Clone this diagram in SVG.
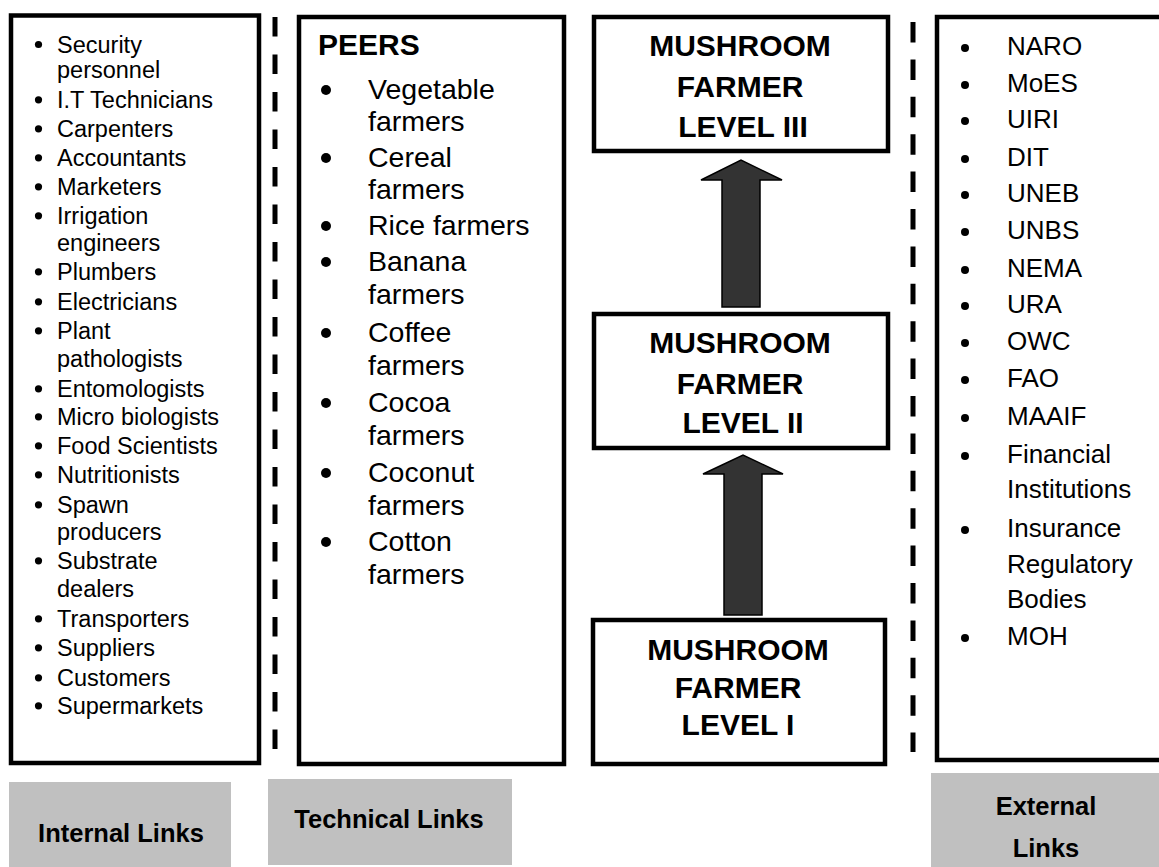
<svg xmlns="http://www.w3.org/2000/svg" width="1159" height="867" viewBox="0 0 1159 867">
<style>
.box{fill:#ffffff;stroke:#000000;stroke-width:4.5}
.lab{fill:#c0c0c0;stroke:none}
.dash{stroke:#000000;stroke-width:5;fill:none}
.t{font-family:"Liberation Sans",Arial,sans-serif;fill:#000000}
.li{font-size:23.5px}
.tl{font-size:28.5px}
.el{font-size:26px}
.b{font-weight:bold}
.mf{font-size:30px;font-weight:bold;text-anchor:middle}
.lt{font-size:25.5px;font-weight:bold;text-anchor:middle}
.arr{fill:#333333;stroke:#000000;stroke-width:1.5;stroke-linejoin:miter}
</style>
<rect width="1159" height="867" fill="#ffffff"/>

<g id="separators">
<line class="dash" x1="275" y1="17" x2="275" y2="766" stroke-dasharray="19.5 18"/>
<line class="dash" x1="913" y1="22" x2="913" y2="752" stroke-dasharray="20.5 16.9"/>
</g>

<g id="internal-links">
<rect class="box" x="11" y="15.5" width="248" height="747.5"/>
<g class="t li">
<text x="57" y="52.7">Security</text>
<text x="57" y="77.7">personnel</text>
<text x="57" y="108">I.T Technicians</text>
<text x="57" y="137">Carpenters</text>
<text x="57" y="166">Accountants</text>
<text x="57" y="195">Marketers</text>
<text x="57" y="224">Irrigation</text>
<text x="57" y="251">engineers</text>
<text x="57" y="280">Plumbers</text>
<text x="57" y="310">Electricians</text>
<text x="57" y="339">Plant</text>
<text x="57" y="367">pathologists</text>
<text x="57" y="397">Entomologists</text>
<text x="57" y="425">Micro biologists</text>
<text x="57" y="454">Food Scientists</text>
<text x="57" y="483">Nutritionists</text>
<text x="57" y="513">Spawn</text>
<text x="57" y="540">producers</text>
<text x="57" y="569">Substrate</text>
<text x="57" y="597">dealers</text>
<text x="57" y="627">Transporters</text>
<text x="57" y="656">Suppliers</text>
<text x="57" y="686">Customers</text>
<text x="57" y="714">Supermarkets</text>
</g>
<g fill="#000000">
<circle cx="38.5" cy="44.5" r="3.6"/>
<circle cx="38.5" cy="99.8" r="3.6"/>
<circle cx="38.5" cy="128.8" r="3.6"/>
<circle cx="38.5" cy="157.8" r="3.6"/>
<circle cx="38.5" cy="186.8" r="3.6"/>
<circle cx="38.5" cy="215.8" r="3.6"/>
<circle cx="38.5" cy="271.8" r="3.6"/>
<circle cx="38.5" cy="301.8" r="3.6"/>
<circle cx="38.5" cy="330.8" r="3.6"/>
<circle cx="38.5" cy="388.8" r="3.6"/>
<circle cx="38.5" cy="416.8" r="3.6"/>
<circle cx="38.5" cy="445.8" r="3.6"/>
<circle cx="38.5" cy="474.8" r="3.6"/>
<circle cx="38.5" cy="504.8" r="3.6"/>
<circle cx="38.5" cy="560.8" r="3.6"/>
<circle cx="38.5" cy="618.8" r="3.6"/>
<circle cx="38.5" cy="647.8" r="3.6"/>
<circle cx="38.5" cy="677.8" r="3.6"/>
<circle cx="38.5" cy="705.8" r="3.6"/>
</g>
</g>

<g id="technical-links">
<rect class="box" x="299" y="17" width="265" height="747"/>
<text class="t b" x="318" y="55" font-size="30">PEERS</text>
<g class="t tl">
<text x="368" y="99">Vegetable</text>
<text x="368" y="131">farmers</text>
<text x="368" y="167">Cereal</text>
<text x="368" y="199">farmers</text>
<text x="368" y="235">Rice farmers</text>
<text x="368" y="271">Banana</text>
<text x="368" y="304">farmers</text>
<text x="368" y="342">Coffee</text>
<text x="368" y="375">farmers</text>
<text x="368" y="412">Cocoa</text>
<text x="368" y="445">farmers</text>
<text x="368" y="482">Coconut</text>
<text x="368" y="515">farmers</text>
<text x="368" y="551">Cotton</text>
<text x="368" y="584">farmers</text>
</g>
<g fill="#000000">
<circle cx="326" cy="90" r="5"/>
<circle cx="326" cy="158" r="5"/>
<circle cx="326" cy="226" r="5"/>
<circle cx="326" cy="262" r="5"/>
<circle cx="326" cy="333" r="5"/>
<circle cx="326" cy="403" r="5"/>
<circle cx="326" cy="473" r="5"/>
<circle cx="326" cy="542" r="5"/>
</g>
</g>

<g id="level-3">
<rect class="box" x="594" y="17" width="294" height="134"/>
<text class="t mf" x="740" y="56">MUSHROOM</text>
<text class="t mf" x="740" y="97">FARMER</text>
<text class="t mf" x="743" y="137">LEVEL III</text>
</g>

<g id="level-2">
<rect class="box" x="594" y="314" width="294" height="134"/>
<text class="t mf" x="740" y="353">MUSHROOM</text>
<text class="t mf" x="740" y="394">FARMER</text>
<text class="t mf" x="743" y="433">LEVEL II</text>
</g>

<g id="level-1">
<rect class="box" x="593" y="620" width="292" height="144"/>
<text class="t mf" x="738" y="660">MUSHROOM</text>
<text class="t mf" x="738" y="698">FARMER</text>
<text class="t mf" x="738" y="735">LEVEL I</text>
</g>

<g id="external-links">
<rect class="box" x="937" y="17" width="240" height="743"/>
<g class="t el">
<text x="1007" y="55">NARO</text>
<text x="1007" y="92">MoES</text>
<text x="1007" y="128">UIRI</text>
<text x="1007" y="166">DIT</text>
<text x="1007" y="202">UNEB</text>
<text x="1007" y="239">UNBS</text>
<text x="1007" y="277">NEMA</text>
<text x="1007" y="313">URA</text>
<text x="1007" y="350">OWC</text>
<text x="1007" y="387">FAO</text>
<text x="1007" y="425">MAAIF</text>
<text x="1007" y="463">Financial</text>
<text x="1007" y="498">Institutions</text>
<text x="1007" y="537">Insurance</text>
<text x="1007" y="573">Regulatory</text>
<text x="1007" y="608">Bodies</text>
<text x="1007" y="645">MOH</text>
</g>
<g fill="#000000">
<circle cx="965" cy="48" r="4"/>
<circle cx="965" cy="85" r="4"/>
<circle cx="965" cy="121" r="4"/>
<circle cx="965" cy="159" r="4"/>
<circle cx="965" cy="195" r="4"/>
<circle cx="965" cy="232" r="4"/>
<circle cx="965" cy="270" r="4"/>
<circle cx="965" cy="306" r="4"/>
<circle cx="965" cy="343" r="4"/>
<circle cx="965" cy="380" r="4"/>
<circle cx="965" cy="418" r="4"/>
<circle cx="965" cy="456" r="4"/>
<circle cx="965" cy="530" r="4"/>
<circle cx="965" cy="638" r="4"/>
</g>
</g>

<g id="label-internal">
<rect class="lab" x="9" y="782" width="222" height="85"/>
<text class="t lt" x="121" y="842">Internal Links</text>
</g>
<g id="label-technical">
<rect class="lab" x="268" y="779" width="244" height="86"/>
<text class="t lt" x="389" y="828">Technical Links</text>
</g>
<g id="label-external">
<rect class="lab" x="931" y="773" width="228" height="94"/>
<text class="t lt" x="1046" y="815">External</text>
<text class="t lt" x="1046" y="857">Links</text>
</g>

<g id="connectors">
<path class="arr" d="M722,307 L722,180 L701,180 L741,160 L782,180 L760,180 L760,307 Z"/>
<path class="arr" d="M724,615 L724,474 L703,474 L743,455 L783,474 L762,474 L762,615 Z"/>
</g>
</svg>
